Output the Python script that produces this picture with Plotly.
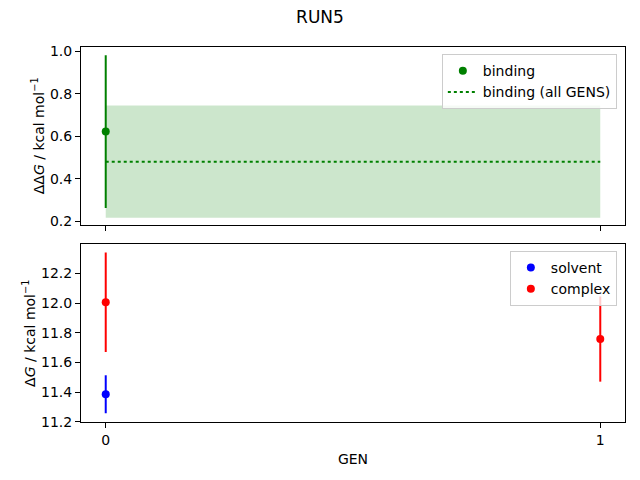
import plotly.graph_objects as go
from plotly.subplots import make_subplots

# data
gens = [0, 1]
binding_gen = [0]
binding = [0.622]
binding_err = [0.358]
binding_all = 0.481
binding_all_err = 0.263

solvent_gen = [0]
solvent = [11.385]
solvent_err = [0.128]
complex_gen = [0, 1]
complex_ = [12.005, 11.757]
complex_err = [0.335, 0.287]

FONT = "DejaVu Sans"
GREEN, BLUE, RED = "#008000", "#0000ff", "#ff0000"

fig = make_subplots(rows=2, cols=1, shared_xaxes=True, vertical_spacing=0.053)

# band for all GENS
fig.add_trace(go.Scatter(
    x=[gens[0], gens[-1], gens[-1], gens[0], gens[0]],
    y=[binding_all - binding_all_err, binding_all - binding_all_err,
       binding_all + binding_all_err, binding_all + binding_all_err,
       binding_all - binding_all_err],
    fill="toself", fillcolor="rgba(0,128,0,0.2)", line=dict(width=0),
    mode="lines", showlegend=False, hoverinfo="skip",
), row=1, col=1)

fig.add_trace(go.Scatter(
    x=binding_gen, y=binding, mode="markers", name="binding",
    marker=dict(color=GREEN, size=8),
    error_y=dict(type="data", array=binding_err, color=GREEN, thickness=2, width=0),
    legendgroup="top",
), row=1, col=1)

fig.add_trace(go.Scatter(
    x=[gens[0], gens[-1]], y=[binding_all, binding_all], mode="lines",
    name="binding (all GENS)", line=dict(color=GREEN, dash="dot", width=2),
    legendgroup="top",
), row=1, col=1)

fig.add_trace(go.Scatter(
    x=solvent_gen, y=solvent, mode="markers", name="solvent",
    marker=dict(color=BLUE, size=8),
    error_y=dict(type="data", array=solvent_err, color=BLUE, thickness=2, width=0),
    legend="legend2",
), row=2, col=1)

fig.add_trace(go.Scatter(
    x=complex_gen, y=complex_, mode="markers", name="complex",
    marker=dict(color=RED, size=8),
    error_y=dict(type="data", array=complex_err, color=RED, thickness=2, width=0),
    legend="legend2",
), row=2, col=1)

axis_style = dict(
    showline=True, linecolor="black", linewidth=1, mirror=True,
    ticks="outside", ticklen=5, tickcolor="black", showgrid=False,
    zeroline=False, tickfont=dict(family=FONT, size=14, color="black"),
)
fig.update_xaxes(**axis_style, range=[-0.05, 1.05], tickvals=gens)
fig.update_xaxes(showticklabels=False, row=1, col=1)
fig.update_xaxes(title=dict(text="GEN", font=dict(family=FONT, size=14, color="black"), standoff=7),
                 row=2, col=1)
fig.update_yaxes(**axis_style)
fig.update_yaxes(range=[0.186, 1.019], tickvals=[0.2, 0.4, 0.6, 0.8, 1.0],
                 ticktext=["0.2", "0.4", "0.6", "0.8", "1.0"],
                 title=dict(text="ΔΔ<i>G</i> / kcal mol<sup>−1</sup>",
                            font=dict(family=FONT, size=14, color="black"), standoff=2),
                 row=1, col=1)
fig.update_yaxes(range=[11.198, 12.395], tickvals=[11.2, 11.4, 11.6, 11.8, 12.0, 12.2],
                 ticktext=["11.2", "11.4", "11.6", "11.8", "12.0", "12.2"],
                 title=dict(text="Δ<i>G</i> / kcal mol<sup>−1</sup>",
                            font=dict(family=FONT, size=14, color="black"), standoff=2),
                 row=2, col=1)

legend_style = dict(
    xanchor="right", yanchor="top", bgcolor="rgba(255,255,255,0.8)",
    bordercolor="#cccccc", borderwidth=1,
    font=dict(family=FONT, size=14, color="black"),
)
fig.update_layout(
    width=640, height=480,
    margin=dict(l=81, r=15, t=47, b=58),
    paper_bgcolor="white", plot_bgcolor="white",
    title=dict(text="RUN5", x=0.5, xref="container", xanchor="center",
               y=1 - 17 / 480, yref="container", yanchor="middle",
               font=dict(family=FONT, size=17, color="black")),
    legend=dict(**legend_style, x=0.985, y=0.981, yref="paper"),
    legend2=dict(**legend_style, x=0.985, y=0.456, yref="paper"),
    font=dict(family=FONT),
)

# drop the browser's default body margin so the figure sits at the page corner
fig.write_html("out.html", config={"displayModeBar": False},
               post_script="document.body.style.margin='0';")
